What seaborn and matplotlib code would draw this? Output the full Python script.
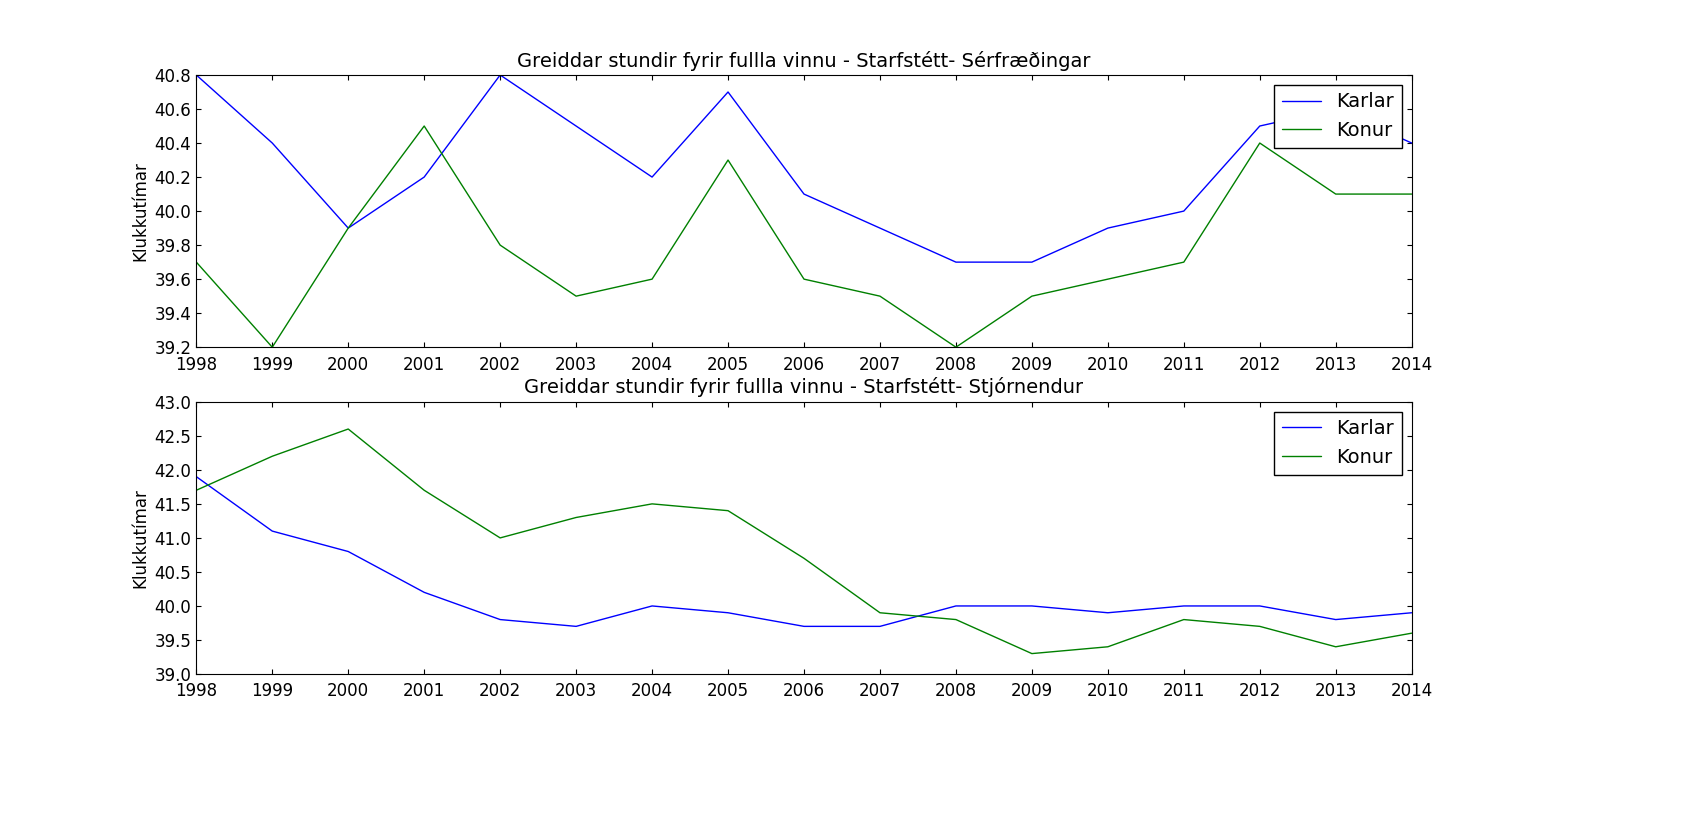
import numpy as np
import pandas as pd
import seaborn as sns
import matplotlib.pyplot as plt

years = list(range(1998, 2015))
sf_karlar = [40.8, 40.4, 39.9, 40.2, 40.8, 40.5, 40.2, 40.7, 40.1, 39.9, 39.7, 39.7, 39.9, 40.0, 40.5, 40.6, 40.4]
sf_konur = [39.7, 39.2, 39.9, 40.5, 39.8, 39.5, 39.6, 40.3, 39.6, 39.5, 39.2, 39.5, 39.6, 39.7, 40.4, 40.1, 40.1]
st_karlar = [41.9, 41.1, 40.8, 40.2, 39.8, 39.7, 40.0, 39.9, 39.7, 39.7, 40.0, 40.0, 39.9, 40.0, 40.0, 39.8, 39.9]
st_konur = [41.7, 42.2, 42.6, 41.7, 41.0, 41.3, 41.5, 41.4, 40.7, 39.9, 39.8, 39.3, 39.4, 39.8, 39.7, 39.4, 39.6]

sns.set_style("ticks")
plt.rcParams['font.family'] = ['DejaVu Sans']
plt.rcParams['xtick.direction'] = 'in'
plt.rcParams['ytick.direction'] = 'in'
plt.rcParams['text.color'] = 'black'
plt.rcParams['axes.labelcolor'] = 'black'
plt.rcParams['xtick.color'] = 'black'
plt.rcParams['ytick.color'] = 'black'
plt.rcParams['axes.edgecolor'] = 'black'

fig = plt.figure(figsize=(17.07, 8.15), dpi=100)
ax1 = fig.add_axes([0.115, 0.574, 0.712, 0.334])
ax2 = fig.add_axes([0.115, 0.173, 0.712, 0.334])

panels = [
    (ax1, sf_karlar, sf_konur, "Sérfræðingar", (39.2, 40.8), np.arange(39.2, 40.81, 0.2)),
    (ax2, st_karlar, st_konur, "Stjórnendur", (39.0, 43.0), np.arange(39.0, 43.01, 0.5)),
]
for ax, ka, ko, name, ylim, yt in panels:
    df = pd.DataFrame({"Ár": years * 2, "v": ka + ko,
                       "Kyn": ["Karlar"] * len(years) + ["Konur"] * len(years)})
    sns.lineplot(data=df, x="Ár", y="v", hue="Kyn", palette=["#0000ff", "#008000"],
                 ax=ax, linewidth=1)
    ax.set_xlim(1998, 2014)
    ax.set_ylim(*ylim)
    ax.set_xticks(years)
    ax.set_yticks(yt)
    ax.yaxis.set_major_formatter(plt.FormatStrFormatter('%.1f'))
    ax.tick_params(labelsize=12, top=True, right=True)
    ax.tick_params(axis='x', pad=6)
    for s in ax.spines.values():
        s.set_visible(True)
        s.set_color('black')
    ax.set_xlabel("")
    ax.set_ylabel("Klukkutímar", fontsize=12)
    ax.set_title(f"Greiddar stundir fyrir fullla vinnu - Starfstétt- {name}", fontsize=14)
    leg = ax.legend(loc="upper right", fontsize=14, fancybox=False, framealpha=1)
    leg.get_frame().set_edgecolor("black")
    leg.set_title(None)

fig.savefig("out.png", dpi=100)
